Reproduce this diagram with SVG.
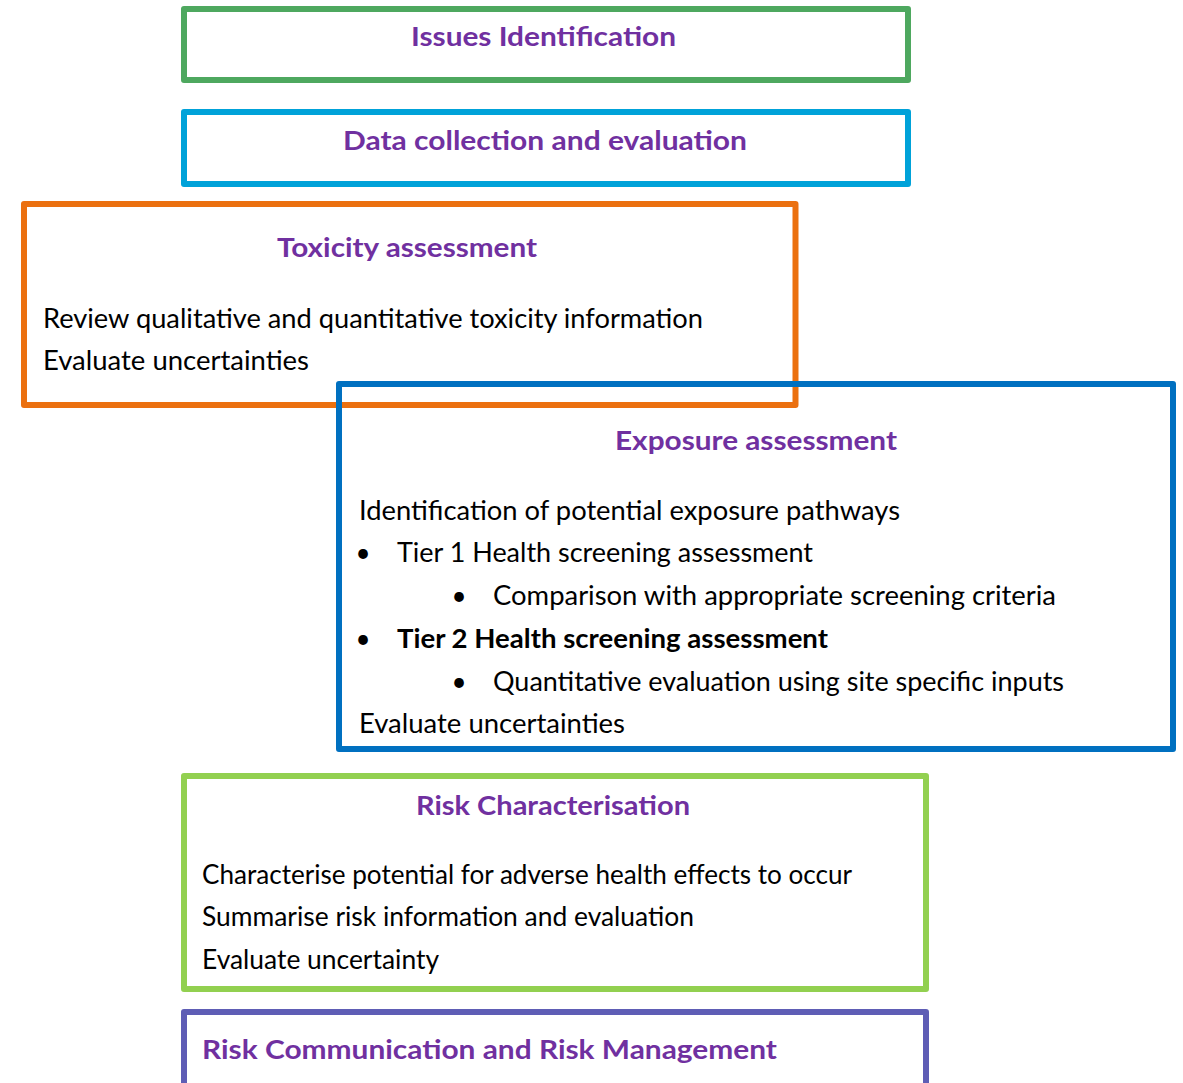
<svg xmlns="http://www.w3.org/2000/svg" width="1183" height="1083" viewBox="0 0 1183 1083">
  <style>
    .box { fill: none; stroke-width: 6; stroke-linejoin: round; }
    .title { font-family: Lato, "Open Sans", "Liberation Sans", sans-serif; font-weight: bold; font-size: 26.5px; fill: #7030A0; }
    .body { font-family: Lato, "Open Sans", "Liberation Sans", sans-serif; font-size: 26px; fill: #000000; }
    .strong { font-weight: bold; }
    .bullet { font-family: Lato, "Liberation Sans", sans-serif; font-size: 26px; fill: #000000; text-anchor: middle; }
  </style>
  <rect width="1183" height="1083" fill="#ffffff"/>

  <!-- no connectors: the stages are stacked boxes -->
  <g id="connectors"/>

  <g id="issues-identification">
    <rect class="box" x="184" y="9" width="724" height="71" stroke="#4EA85F"/>
    <text class="title" x="411" y="46" textLength="265" lengthAdjust="spacingAndGlyphs">Issues Identification</text>
  </g>

  <g id="data-collection">
    <rect class="box" x="184" y="112" width="724" height="72" stroke="#00A2D9"/>
    <text class="title" x="343" y="150" textLength="404" lengthAdjust="spacingAndGlyphs">Data collection and evaluation</text>
  </g>

  <g id="toxicity-assessment">
    <rect class="box" x="24" y="204" width="771.5" height="201" stroke="#EB700F"/>
    <text class="title" x="277" y="257" textLength="260" lengthAdjust="spacingAndGlyphs">Toxicity assessment</text>
    <text class="body" x="43" y="328" textLength="660" lengthAdjust="spacingAndGlyphs">Review qualitative and quantitative toxicity information</text>
    <text class="body" x="43" y="370" textLength="266" lengthAdjust="spacingAndGlyphs">Evaluate uncertainties</text>
  </g>

  <g id="exposure-assessment">
    <rect class="box" x="339" y="384" width="834" height="365" stroke="#0070C0"/>
    <text class="title" x="615" y="450" textLength="282" lengthAdjust="spacingAndGlyphs">Exposure assessment</text>
    <text class="body" x="359" y="520" textLength="541" lengthAdjust="spacingAndGlyphs">Identification of potential exposure pathways</text>
    <text class="bullet" x="363" y="562">•</text>
    <text class="body" x="397" y="562" textLength="416" lengthAdjust="spacingAndGlyphs">Tier 1 Health screening assessment</text>
    <text class="bullet" x="459" y="605">•</text>
    <text class="body" x="493" y="605" textLength="563" lengthAdjust="spacingAndGlyphs">Comparison with appropriate screening criteria</text>
    <text class="bullet" x="363" y="648">•</text>
    <text class="body strong" x="397" y="648" textLength="431" lengthAdjust="spacingAndGlyphs">Tier 2 Health screening assessment</text>
    <text class="bullet" x="459" y="691">•</text>
    <text class="body" x="493" y="691" textLength="571" lengthAdjust="spacingAndGlyphs">Quantitative evaluation using site specific inputs</text>
    <text class="body" x="359" y="733" textLength="266" lengthAdjust="spacingAndGlyphs">Evaluate uncertainties</text>
  </g>

  <g id="risk-characterisation">
    <rect class="box" x="184" y="776" width="742" height="213" stroke="#92D050"/>
    <text class="title" x="416" y="815" textLength="274" lengthAdjust="spacingAndGlyphs">Risk Characterisation</text>
    <text class="body" x="202" y="884" textLength="650" lengthAdjust="spacingAndGlyphs">Characterise potential for adverse health effects to occur</text>
    <text class="body" x="202" y="926" textLength="492" lengthAdjust="spacingAndGlyphs">Summarise risk information and evaluation</text>
    <text class="body" x="202" y="969" textLength="237" lengthAdjust="spacingAndGlyphs">Evaluate uncertainty</text>
  </g>

  <g id="risk-communication">
    <rect class="box" x="184" y="1012" width="742" height="100" stroke="#5E5DB5"/>
    <text class="title" x="202" y="1059" textLength="575" lengthAdjust="spacingAndGlyphs">Risk Communication and Risk Management</text>
  </g>
</svg>
